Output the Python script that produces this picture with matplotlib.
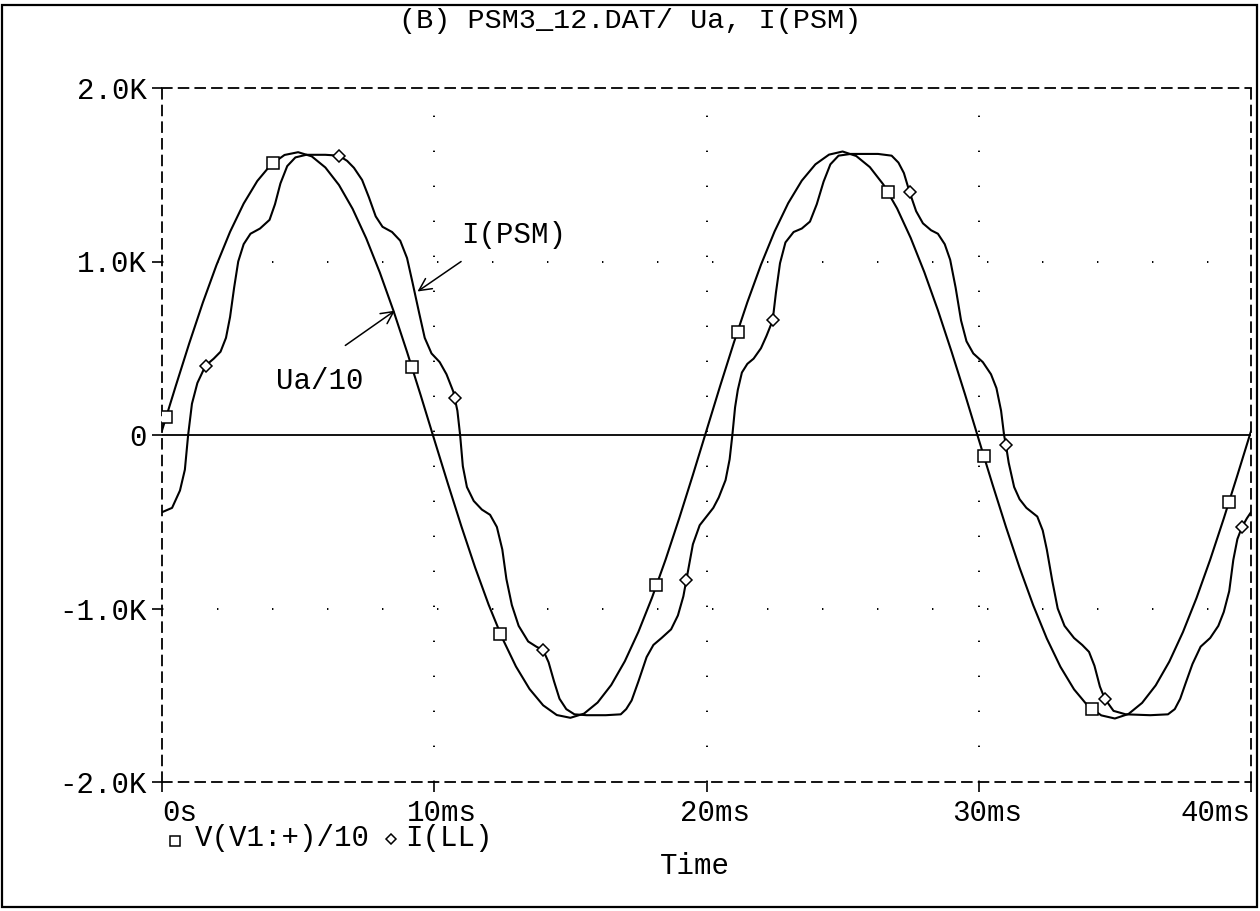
"""Transient plot: line voltage V(V1:+)/10 and line current I(LL) over two mains periods."""
import matplotlib
matplotlib.use("Agg")
import matplotlib.pyplot as plt
import matplotlib.transforms as mtransforms
from matplotlib.lines import Line2D
from matplotlib.patches import Rectangle
import numpy as np

plt.rcParams.update({
    "font.family": ["Liberation Mono", "DejaVu Sans Mono"],
    "font.size": 21,
    "lines.scale_dashes": False,
})

# ---- data (ms, plain units; axis shows K) ---------------------------------
t_v = [0.0, 0.5, 1.0, 1.5, 2.0, 2.5, 3.0, 3.5, 4.0, 4.5,
       5.0, 5.5, 6.0, 6.5, 7.0, 7.5, 8.0, 8.5, 9.0, 9.5,
       10.0, 10.5, 11.0, 11.5, 12.0, 12.5, 13.0, 13.5, 14.0, 14.5,
       15.0, 15.5, 16.0, 16.5, 17.0, 17.5, 18.0, 18.5, 19.0, 19.5,
       20.0, 20.5, 21.0, 21.5, 22.0, 22.5, 23.0, 23.5, 24.0, 24.5,
       25.0, 25.5, 26.0, 26.5, 27.0, 27.5, 28.0, 28.5, 29.0, 29.5,
       30.0, 30.5, 31.0, 31.5, 32.0, 32.5, 33.0, 33.5, 34.0, 34.5,
       35.0, 35.5, 36.0, 36.5, 37.0, 37.5, 38.0, 38.5, 39.0, 39.5,
       40.0]
v_ua = [26, 280, 528, 763, 979, 1171, 1334, 1464, 1558, 1614,
        1630, 1606, 1542, 1441, 1304, 1134, 937, 717, 479, 230,
        -26, -280, -528, -763, -979, -1171, -1334, -1464, -1558, -1614,
        -1630, -1606, -1542, -1441, -1304, -1134, -937, -717, -479, -230,
        26, 282, 530, 765, 981, 1173, 1336, 1466, 1560, 1616,
        1634, 1608, 1544, 1443, 1306, 1136, 939, 719, 481, 232,
        -26, -282, -530, -765, -981, -1173, -1336, -1466, -1560, -1616,
        -1634, -1608, -1544, -1443, -1306, -1136, -939, -719, -481, -232,
        22]

t_i = [0.0, 0.37, 0.66, 0.84, 0.96, 1.1, 1.3, 1.6, 1.9, 2.15,
       2.35, 2.5, 2.65, 2.8, 3.0, 3.25, 3.6, 3.95, 4.15, 4.35,
       4.6, 4.9, 5.3, 6.0, 6.5, 6.8, 7.05, 7.35, 7.6, 7.85,
       8.1, 8.45, 8.75, 9.0, 9.2, 9.45, 9.65, 9.9, 10.2, 10.45,
       10.7, 10.85, 10.95, 11.05, 11.2, 11.45, 11.75, 12.05, 12.3, 12.5,
       12.65, 12.85, 13.1, 13.45, 13.75, 14.0, 14.2, 14.4, 14.6, 14.85,
       15.15, 15.6, 16.3, 16.85, 17.05, 17.25, 17.5, 17.8, 18.05, 18.35,
       18.7, 18.95, 19.15, 19.3, 19.5, 19.75, 20.0, 20.25, 20.45, 20.7,
       20.85, 20.95, 21.05, 21.15, 21.3, 21.5, 21.73, 22.0, 22.2, 22.43,
       22.55, 22.7, 22.9, 23.2, 23.5, 23.8, 24.05, 24.3, 24.55, 24.85,
       25.3, 26.3, 26.8, 27.05, 27.25, 27.46, 27.7, 27.95, 28.25, 28.5,
       28.75, 28.95, 29.15, 29.35, 29.55, 29.8, 30.15, 30.45, 30.65, 30.82,
       30.93, 31.0, 31.1, 31.3, 31.5, 31.75, 32.15, 32.35, 32.5, 32.7,
       32.9, 33.15, 33.5, 33.8, 34.05, 34.25, 34.45, 34.63, 34.95, 35.4,
       36.3, 36.95, 37.2, 37.4, 37.6, 37.85, 38.15, 38.5, 38.8, 39.0,
       39.2, 39.35, 39.5, 39.67, 39.85, 40.0]
i_ll = [-445, -420, -320, -200, 0, 180, 300, 400, 440, 480,
        560, 680, 850, 1000, 1100, 1160, 1190, 1240, 1330, 1450,
        1550, 1600, 1615, 1615, 1610, 1580, 1540, 1470, 1370, 1260,
        1200, 1170, 1120, 1020, 880, 700, 560, 470, 420, 350,
        250, 140, 0, -180, -300, -380, -430, -460, -530, -660,
        -830, -980, -1100, -1190, -1220, -1240, -1310, -1420, -1520, -1580,
        -1610, -1615, -1615, -1610, -1580, -1530, -1420, -1280, -1210, -1170,
        -1120, -1040, -930, -800, -630, -520, -470, -420, -360, -260,
        -140, 0, 160, 260, 360, 410, 440, 500, 570, 660,
        820, 990, 1110, 1170, 1190, 1230, 1330, 1460, 1560, 1610,
        1620, 1620, 1610, 1570, 1510, 1400, 1290, 1220, 1180, 1160,
        1100, 1010, 850, 660, 540, 470, 420, 350, 270, 140,
        0, -60, -160, -300, -370, -420, -470, -550, -660, -840,
        -1000, -1100, -1170, -1210, -1250, -1330, -1450, -1520, -1590, -1610,
        -1615, -1610, -1580, -1520, -1430, -1320, -1220, -1170, -1100, -1020,
        -900, -720, -600, -530, -480, -445]

# marker instants along each trace
sq_times = [0.15, 4.07, 9.17, 12.43, 18.16, 21.14, 26.65, 30.18, 34.15, 39.19]
dm_times = [1.6, 6.5, 10.75, 14.0, 19.26, 22.43, 27.46, 31.0, 34.63, 39.67]

x_ticks = [0, 10, 20, 30, 40]
x_labels = ["0s", "10ms", "20ms", "30ms", "40ms"]
y_ticks = [-2000, -1000, 0, 1000, 2000]
y_labels = ["-2.0K", "-1.0K", "0", "1.0K", "2.0K"]

title = "(B) PSM3_12.DAT/ Ua, I(PSM)"

# ---- figure ----------------------------------------------------------------
W, H = 1260, 911
fig = plt.figure(figsize=(W / 100, H / 100), dpi=100)
ax = fig.add_axes([162 / W, 1 - 782 / H, (1251 - 162) / W, (782 - 88) / H])
ax.set_xlim(0, 40)
ax.set_ylim(-2000, 2000)

for sp in ax.spines.values():
    sp.set_linestyle((0, (7, 5)))
    sp.set_linewidth(1.3)

ax.set_xticks(x_ticks)
ax.set_xticklabels(x_labels)
ax.set_yticks(y_ticks)
ax.set_yticklabels(y_labels)
ax.tick_params(direction="out", length=7, width=1.2, colors="black")
ax.tick_params(axis="x", pad=5)
ax.tick_params(axis="y", pad=4)
xl = ax.get_xticklabels()
xl[0].set_ha("left")
xl[-1].set_ha("right")
shift = mtransforms.ScaledTranslation(8 / 100, 0, fig.dpi_scale_trans)
for lbl in xl[1:-1]:
    lbl.set_transform(lbl.get_transform() + shift)

# dotted grid lines
for yv in (-1000, 1000):
    ax.axhline(yv, color="black", lw=1.4, ls=(0, (1, 38.6)))
for xv in (10, 20, 30):
    ax.axvline(xv, color="black", lw=1.4, ls=(0, (1, 24.2)))
ax.axhline(0, color="black", lw=1.3)

ax.plot(t_v, v_ua, color="black", lw=1.5, zorder=3)
ax.plot(t_i, i_ll, color="black", lw=1.5, zorder=3)

ax.plot(sq_times, np.interp(sq_times, t_v, v_ua), ls="none", marker="s",
        ms=8, mfc="white", mec="black", mew=1.1, zorder=4)
ax.plot(dm_times, np.interp(dm_times, t_i, i_ll), ls="none", marker="D",
        ms=6, mfc="white", mec="black", mew=1.1, zorder=4)

# trace call-outs
arrow = dict(arrowstyle="->", color="black", lw=1.1, mutation_scale=22)
ax.annotate("", xy=(9.30, 818), xytext=(11.07, 1009), arrowprops=arrow)
ax.text(11.0, 1150, "I(PSM)", ha="left", va="center")
ax.annotate("", xy=(8.64, 726), xytext=(6.65, 507), arrowprops=arrow)
ax.text(4.2, 311, "Ua/10", ha="left", va="center")

fig.text(0.5, 1 - 21 / H, title, ha="center", va="center", fontsize=20.5)

# legend row below the axis
fig.add_artist(Line2D([175 / W], [1 - 841 / H], marker="s", ms=7, mfc="white",
                      mec="black", mew=1.1, transform=fig.transFigure))
fig.text(195 / W, 1 - 838 / H, "V(V1:+)/10", ha="left", va="center")
fig.add_artist(Line2D([391 / W], [1 - 839 / H], marker="D", ms=5, mfc="white",
                      mec="black", mew=1.1, transform=fig.transFigure))
fig.text(405 / W, 1 - 838 / H, "I(LL)", ha="left", va="center")
fig.text(695 / W, 1 - 866 / H, "Time", ha="center", va="center")

# outer page frame
fig.add_artist(Rectangle((2 / W, 4 / H), 1255 / W, 902 / H, fill=False,
                         ec="black", lw=1.6, transform=fig.transFigure))

fig.savefig("out.png", dpi=100, facecolor="white")
